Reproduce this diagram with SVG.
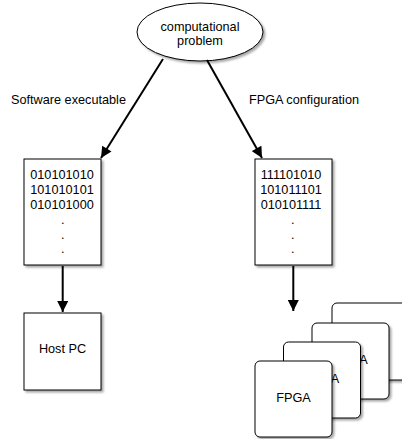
<svg xmlns="http://www.w3.org/2000/svg" width="402" height="439" viewBox="0 0 402 439">
<defs>
<filter id="sh" x="-10%" y="-10%" width="130%" height="130%">
<feDropShadow dx="2" dy="2" stdDeviation="1.2" flood-color="#000" flood-opacity="0.35"/>
</filter>
<marker id="ah" viewBox="0 0 10 10" refX="10" refY="5" markerWidth="6" markerHeight="5.5" orient="auto" markerUnits="strokeWidth">
<path d="M0,0 L10,5 L0,10 z" fill="#000"/>
</marker>
</defs>
<style>
text{font-family:"Liberation Sans",Arial,sans-serif;font-size:12.7px;fill:#000}
.c{text-anchor:middle}
.box{fill:#fff;stroke:#000;stroke-width:1}
.edge{stroke:#000;stroke-width:2;fill:none;marker-end:url(#ah)}
</style>
<g id="problem">
<ellipse cx="200" cy="32" rx="63" ry="29" class="box" filter="url(#sh)"/>
<text class="c" x="200" y="31">computational</text>
<text class="c" x="200" y="45">problem</text>
</g>
<g id="labels">
<text x="11" y="104">Software executable</text>
<text x="249" y="104">FPGA configuration</text>
</g>
<g id="sw">
<rect x="24" y="159" width="77" height="106" class="box" filter="url(#sh)"/>
<text class="c" x="62" y="178.5">010101010</text>
<text class="c" x="62" y="193.5">101010101</text>
<text class="c" x="62" y="208.5">010101000</text>
<text class="c" x="62.7" y="224">.</text>
<text class="c" x="62.7" y="238.5">.</text>
<text class="c" x="62.7" y="253">.</text>
</g>
<g id="hw">
<rect x="255" y="159" width="77" height="106" class="box" filter="url(#sh)"/>
<text class="c" x="291" y="178.5">111101010</text>
<text class="c" x="291" y="193.5">101011101</text>
<text class="c" x="291" y="208.5">010101111</text>
<text class="c" x="292.7" y="224">.</text>
<text class="c" x="292.7" y="238.5">.</text>
<text class="c" x="292.7" y="253">.</text>
</g>
<g id="host">
<rect x="24" y="313" width="77" height="77" class="box" filter="url(#sh)"/>
<text class="c" x="62.5" y="353">Host PC</text>
</g>
<g id="fpga4">
<rect x="332" y="303" width="77" height="77" rx="5" class="box" filter="url(#sh)"/>
<text class="c" x="370.5" y="344.5">FPGA</text>
</g>
<g id="fpga3">
<rect x="312" y="323" width="77" height="76" rx="5" class="box" filter="url(#sh)"/>
<text class="c" x="350.5" y="364">FPGA</text>
</g>
<g id="fpga2">
<rect x="283.5" y="342" width="77" height="76" rx="5" class="box" filter="url(#sh)"/>
<text class="c" x="322" y="383">FPGA</text>
</g>
<g id="fpga1">
<rect x="255" y="361" width="77" height="76" rx="5" class="box" filter="url(#sh)"/>
<text class="c" x="293.5" y="401.5">FPGA</text>
</g>
<g id="connectors">
<line x1="163" y1="59" x2="101" y2="158" class="edge"/>
<line x1="207" y1="60" x2="262" y2="158" class="edge"/>
<line x1="62.7" y1="266" x2="62.7" y2="312" class="edge"/>
<line x1="293.3" y1="266" x2="293.3" y2="311" class="edge"/>
</g>
</svg>
